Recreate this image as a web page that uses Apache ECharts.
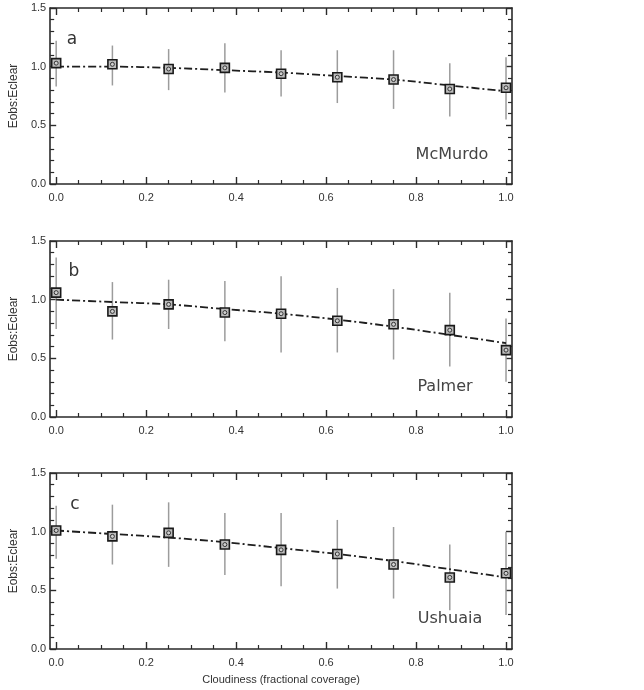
<!DOCTYPE html>
<html>
<head>
<meta charset="utf-8">
<script src="https://cdn.jsdelivr.net/npm/echarts@6/dist/echarts.min.js"></script>
<style>
  html, body { margin: 0; padding: 0; background: #fff; }
  #chart { width: 644px; height: 690px; }
</style>
</head>
<body>
<div id="chart"></div>
<script>
const cloudiness = [0, 0.125, 0.25, 0.375, 0.5, 0.625, 0.75, 0.875, 1.0];

const mcmurdoRatio = [1.03, 1.02, 0.98, 0.99, 0.94, 0.91, 0.89, 0.81, 0.82];
const mcmurdoHigh = [1.22, 1.18, 1.15, 1.20, 1.14, 1.14, 1.14, 1.03, 1.08];
const mcmurdoLow = [0.83, 0.84, 0.80, 0.78, 0.745, 0.69, 0.64, 0.575, 0.55];
const mcmurdoFit = [1.00, 1.00, 0.99, 0.97, 0.95, 0.92, 0.89, 0.84, 0.79];

const palmerRatio = [1.06, 0.90, 0.96, 0.89, 0.88, 0.82, 0.79, 0.74, 0.57];
const palmerHigh = [1.36, 1.15, 1.17, 1.16, 1.20, 1.10, 1.09, 1.06, 0.84];
const palmerLow = [0.75, 0.66, 0.75, 0.645, 0.55, 0.55, 0.49, 0.43, 0.30];
const palmerFit = [1.00, 0.98, 0.96, 0.92, 0.88, 0.83, 0.77, 0.70, 0.63];

const ushuaiaRatio = [1.01, 0.96, 0.99, 0.89, 0.845, 0.81, 0.72, 0.61, 0.645];
const ushuaiaHigh = [1.22, 1.23, 1.25, 1.16, 1.16, 1.10, 1.04, 0.89, 1.00];
const ushuaiaLow = [0.77, 0.72, 0.70, 0.63, 0.535, 0.515, 0.43, 0.33, 0.29];
const ushuaiaFit = [1.01, 0.98, 0.95, 0.91, 0.86, 0.81, 0.75, 0.68, 0.61];

const xMajorTicks = [0, 0.2, 0.4, 0.6, 0.8, 1.0];
const xMinorTicks = [0.05, 0.1, 0.15, 0.25, 0.3, 0.35, 0.45, 0.5, 0.55,
  0.65, 0.7, 0.75, 0.85, 0.9, 0.95];

const panels = [
  { letter: "a", station: "McMurdo", ratio: mcmurdoRatio, high: mcmurdoHigh, low: mcmurdoLow, fit: mcmurdoFit },
  { letter: "b", station: "Palmer", ratio: palmerRatio, high: palmerHigh, low: palmerLow, fit: palmerFit },
  { letter: "c", station: "Ushuaia", ratio: ushuaiaRatio, high: ushuaiaHigh, low: ushuaiaLow, fit: ushuaiaFit },
];

const gridTops = [8, 241, 473];
const gridHeight = 176;
const letterPos = [[72, 40], [74, 272], [75, 505]];
const stationPos = [[452, 155], [445, 387], [450, 619]];

const font = "Liberation Sans";
const ink = "#2a2a2a";
const xMin = -0.0133;
const xMax = 1.0133;

let grids = [], xAxes = [], yAxes = [], series = [], graphics = [];

panels.forEach((p, i) => {
  grids.push({ left: 48, right: 132, top: gridTops[i], height: gridHeight });

  const axisLine = { show: true, onZero: false, lineStyle: { color: ink, width: 1.6 } };
  const noLine = { show: false, onZero: false };
  const last = i === panels.length - 1;

  // bottom axis: labels + major ticks
  xAxes.push({
    type: "value", gridIndex: i, position: "bottom", min: xMin, max: xMax,
    axisLine: axisLine,
    splitLine: { show: false },
    axisTick: { inside: true, length: 7, customValues: xMajorTicks, lineStyle: { color: ink, width: 1.4 } },
    axisLabel: {
      customValues: xMajorTicks, margin: 8,
      formatter: (v) => v.toFixed(1),
      fontFamily: font, fontSize: 11, color: "#333",
    },
    name: last ? "Cloudiness (fractional coverage)" : "",
    nameLocation: "middle", nameGap: 25,
    nameTextStyle: { fontFamily: font, fontSize: 11, color: "#333" },
  });
  // bottom axis: minor ticks
  xAxes.push({
    type: "value", gridIndex: i, position: "bottom", min: xMin, max: xMax,
    axisLine: noLine, splitLine: { show: false }, axisLabel: { show: false },
    axisTick: { inside: true, length: 4, customValues: xMinorTicks, lineStyle: { color: ink, width: 1.2 } },
  });
  // top axis: box edge + major ticks
  xAxes.push({
    type: "value", gridIndex: i, position: "top", min: xMin, max: xMax,
    axisLine: axisLine, splitLine: { show: false }, axisLabel: { show: false },
    axisTick: { inside: true, length: 7, customValues: xMajorTicks, lineStyle: { color: ink, width: 1.4 } },
  });
  // top axis: minor ticks
  xAxes.push({
    type: "value", gridIndex: i, position: "top", min: xMin, max: xMax,
    axisLine: noLine, splitLine: { show: false }, axisLabel: { show: false },
    axisTick: { inside: true, length: 4, customValues: xMinorTicks, lineStyle: { color: ink, width: 1.2 } },
  });

  yAxes.push({
    type: "value", gridIndex: i, position: "left", min: 0, max: 1.5, interval: 0.5,
    axisLine: axisLine, splitLine: { show: false },
    axisTick: { inside: true, length: 6, lineStyle: { color: ink, width: 1.4 } },
    minorTick: { show: true, splitNumber: 5, length: 4, lineStyle: { color: ink, width: 1.2 } },
    axisLabel: { formatter: (v) => v.toFixed(1), fontFamily: font, fontSize: 11, color: "#333", margin: 4 },
    name: "Eobs:Eclear", nameLocation: "middle", nameGap: 19, nameRotate: 90,
    nameTextStyle: { fontFamily: font, fontSize: 12, color: "#333" },
  });
  yAxes.push({
    type: "value", gridIndex: i, position: "right", min: 0, max: 1.5, interval: 0.5,
    axisLine: axisLine, splitLine: { show: false }, axisLabel: { show: false },
    axisTick: { inside: true, length: 6, lineStyle: { color: ink, width: 1.4 } },
    minorTick: { show: true, splitNumber: 5, length: 4, lineStyle: { color: ink, width: 1.2 } },
  });

  const xi = i * 4, yi = i * 2;

  series.push({
    type: "custom", xAxisIndex: xi, yAxisIndex: yi, z: 2,
    data: cloudiness.map((c, k) => [c, p.low[k], p.high[k]]),
    encode: { x: 0, y: [1, 2] },
    renderItem: function (params, api) {
      const a = api.coord([api.value(0), api.value(1)]);
      const b = api.coord([api.value(0), api.value(2)]);
      return {
        type: "line",
        shape: { x1: a[0], y1: a[1], x2: b[0], y2: b[1] },
        style: { stroke: "#9c9c9c", lineWidth: 1.5 },
      };
    },
  });
  series.push({
    type: "line", xAxisIndex: xi, yAxisIndex: yi, z: 3,
    data: cloudiness.map((c, k) => [c, p.fit[k]]),
    showSymbol: false, smooth: 0.3,
    lineStyle: { color: "#1e1e1e", width: 1.8, type: [8, 3, 2, 3] },
  });
  series.push({
    type: "scatter", xAxisIndex: xi, yAxisIndex: yi, z: 4,
    data: cloudiness.map((c, k) => [c, p.ratio[k]]),
    symbol: "rect", symbolSize: 9,
    itemStyle: { color: "#bdbdbd", borderColor: "#1a1a1a", borderWidth: 1.6, opacity: 1 },
  });
  series.push({
    type: "scatter", xAxisIndex: xi, yAxisIndex: yi, z: 5,
    data: cloudiness.map((c, k) => [c, p.ratio[k]]),
    symbol: "circle", symbolSize: 4,
    itemStyle: { color: "#d0d0d0", borderColor: "#333", borderWidth: 1, opacity: 1 },
  });

  graphics.push({
    type: "text", x: letterPos[i][0], y: letterPos[i][1],
    style: { text: p.letter, font: "17px 'DejaVu Sans'", fill: "#333", align: "center", verticalAlign: "middle" },
  });
  graphics.push({
    type: "text", x: stationPos[i][0], y: stationPos[i][1],
    style: { text: p.station, font: "16px 'DejaVu Sans'", fill: "#444", align: "center", verticalAlign: "middle" },
  });
});

const chart = echarts.init(document.getElementById("chart"));
chart.setOption({
  animation: false,
  grid: grids,
  xAxis: xAxes,
  yAxis: yAxes,
  series: series,
  graphic: graphics,
});
</script>
</body>
</html>
